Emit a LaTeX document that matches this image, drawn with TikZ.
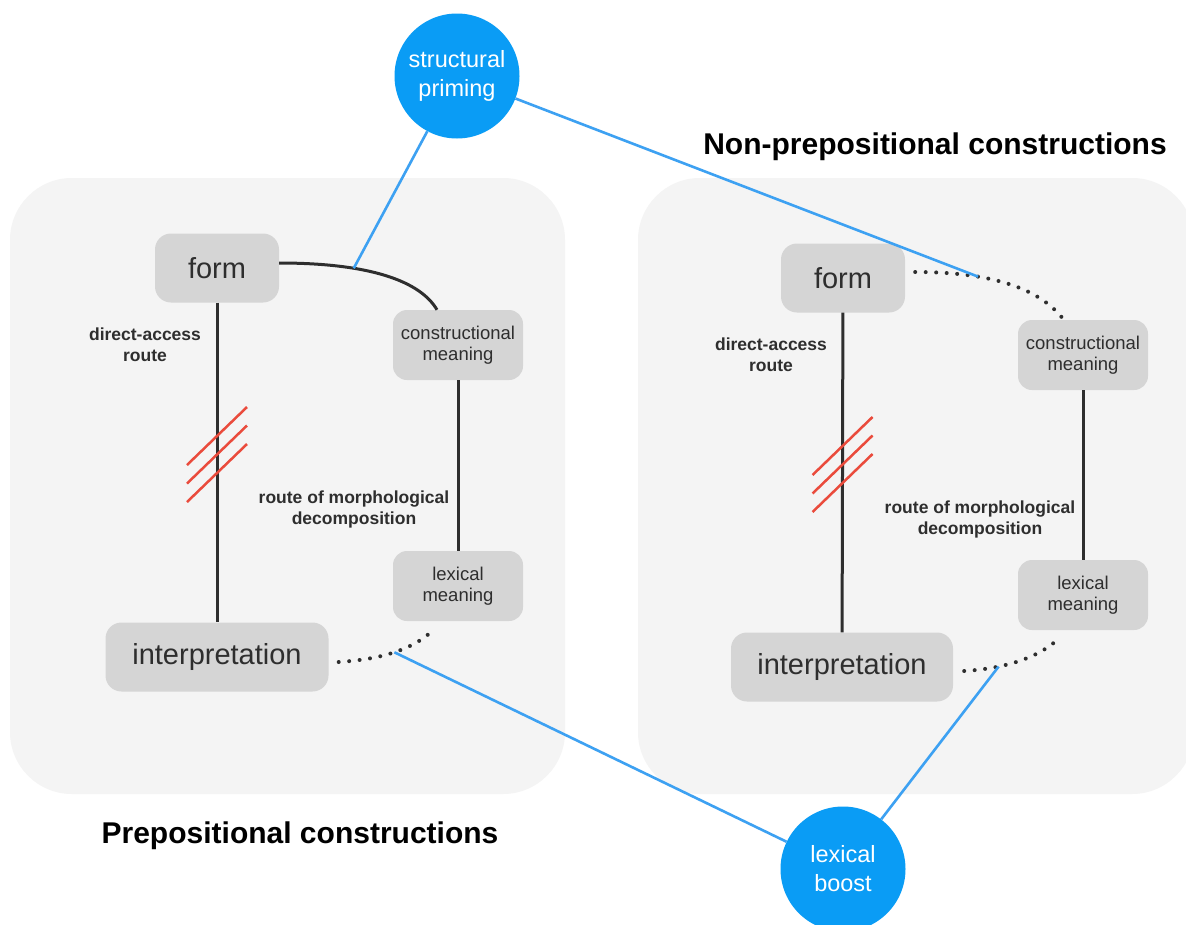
\documentclass[tikz,border=0pt]{standalone}
\usepackage{fontspec}
\setmainfont{Liberation Sans}
\usepackage{xcolor}
\usepackage{tikz}
\usetikzlibrary{calc, positioning}
\definecolor{pblue}{HTML}{0A9CF5}
\definecolor{pline}{HTML}{3DA1F2}
\definecolor{ppanel}{HTML}{F4F4F4}
\definecolor{pbox}{HTML}{D5D5D5}
\definecolor{ptext}{HTML}{2E2E2E}
\definecolor{pred}{HTML}{EA4B3C}

\begin{document}
\begin{tikzpicture}[x=1pt, y=-1pt,
  bigbox/.style={fill=pbox, rounded corners=16pt, minimum width=124pt, minimum height=69pt,
    inner sep=0pt, text=ptext, font=\fontsize{29}{34}\selectfont},
  smallbox/.style={fill=pbox, rounded corners=14pt, minimum width=130pt, minimum height=70pt,
    inner sep=0pt, text=ptext, align=center, font=\fontsize{18.5}{21.5}\selectfont},
  routelabel/.style={text=ptext, align=center, font=\fontsize{17.5}{21}\selectfont\bfseries},
  hub/.style={circle, fill=pblue, minimum size=125pt, inner sep=0pt, text=white,
    align=center, font=\fontsize{23.5}{29}\selectfont},
  link/.style={ptext, line width=3pt},
  dots/.style={ptext, line width=4pt, line cap=round, dash pattern=on 0pt off 10.5pt},
  boost/.style={pline, line width=2.6pt},
  hatch/.style={pred, line width=2.5pt},
  title/.style={font=\fontsize{30}{36}\selectfont\bfseries}
]

  \clip (0,0) rectangle (1186,924);
  \fill[white] (0,0) rectangle (1186,924);

  %% panels
  \fill[ppanel, rounded corners=62pt] (10,178) rectangle (565,794);
  \fill[ppanel, rounded corners=62pt] (638,178) rectangle (1194,794);

  %% Prepositional constructions
  \node[bigbox] (lform) at (217,268) {form};
  \node[bigbox, minimum width=223pt] (linterp) at (217,657) {interpretation};
  \node[smallbox] (lcons) at (458,345) {constructional\\meaning};
  \node[smallbox] (llex) at (458,586) {lexical\\meaning};
  \node[routelabel] (ldirect) at (145,345) {direct-access\\route};
  \node[routelabel] (ldecomp) at (354,509) {route of morphological\\decomposition};

  \draw[link] (lform) -- (linterp);
  \draw[link] (lcons) -- (llex);
  \draw[link] ([yshift=5pt]lform.east) .. controls +(90,0) and +(-17,-29) ..
    ([xshift=-21pt]lcons.north) coordinate[pos=0.32] (ljoin);
  \draw[dots] ([xshift=10pt,yshift=-5pt]linterp.east) .. controls +(32,-2) and +(-24,24) ..
    ([xshift=-24pt,yshift=-8pt]llex.south) coordinate[pos=0.55] (lbjoin);

  % blocked route
  \coordinate (lcut) at ($(lform.south)!0.475!(linterp.north)$);
  \foreach \d in {-18.5,0,18.5}
    \draw[hatch] ([shift={(-30,29+\d)}]lcut) -- ([shift={(30,-29+\d)}]lcut);

  \node[title] (ltitle) at (300,836) {Prepositional constructions};

  %% Non-prepositional constructions
  \node[bigbox] (rform) at (843,278) {form};
  \node[bigbox, minimum width=222pt] (rinterp) at (842,667) {interpretation};
  \node[smallbox] (rcons) at (1083,355) {constructional\\meaning};
  \node[smallbox] (rlex) at (1083,595) {lexical\\meaning};
  \node[routelabel] (rdirect) at (771,355) {direct-access\\route};
  \node[routelabel] (rdecomp) at (980,519) {route of morphological\\decomposition};

  \draw[link] (rform) -- (rinterp);
  \draw[link] (rcons) -- (rlex);
  \draw[dots] ([xshift=10pt,yshift=6pt]rform.east) .. controls +(80,0) and +(-23,-29) ..
    ([xshift=-20pt,yshift=1pt]rcons.north) coordinate[pos=0.3] (rjoin);
  \draw[dots] ([xshift=11pt,yshift=-4pt]rinterp.east) .. controls +(32,-2) and +(-24,24) ..
    ([xshift=-23pt,yshift=-7pt]rlex.south) coordinate[pos=0.34] (rbjoin);

  \coordinate (rcut) at ($(rform.south)!0.475!(rinterp.north)$);
  \foreach \d in {-18.5,0,18.5}
    \draw[hatch] ([shift={(-30,29+\d)}]rcut) -- ([shift={(30,-29+\d)}]rcut);

  \node[title] (rtitle) at (935,147) {Non-prepositional constructions};

  %% priming and boost
  \node[hub] (prime) at (457,76) {structural\\priming};
  \node[hub] (lexboost) at (843,869) {lexical\\boost};

  \draw[boost] (prime) -- (ljoin);
  \draw[boost] (prime) -- (rjoin);
  \draw[boost] (lexboost) -- (lbjoin);
  \draw[boost] (lexboost) -- (rbjoin);

\end{tikzpicture}
\end{document}
